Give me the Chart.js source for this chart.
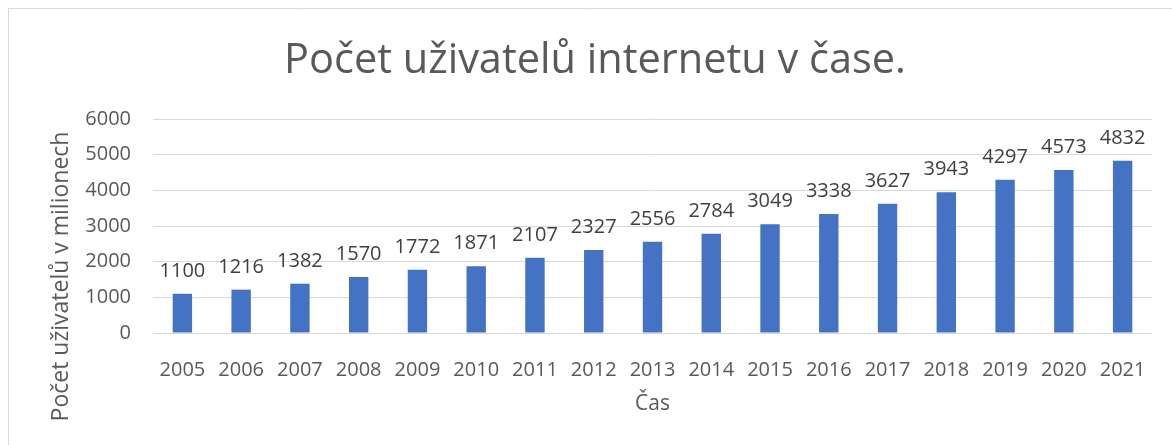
<!DOCTYPE html>
<html>
<head>
<meta charset="utf-8">
<script src="https://cdn.jsdelivr.net/npm/chart.js@4/dist/chart.umd.min.js"></script>
<style>
  html, body { margin: 0; padding: 0; background: #fff; }
  canvas { display: block; }
</style>
</head>
<body>
<canvas id="graf" width="1172" height="445"></canvas>
<script>
// Data
const roky = ['2005', '2006', '2007', '2008', '2009', '2010', '2011', '2012', '2013',
    '2014', '2015', '2016', '2017', '2018', '2019', '2020', '2021'];
const uzivatele = [1100, 1216, 1382, 1570, 1772, 1871, 2107, 2327, 2556,
    2784, 3049, 3338, 3627, 3943, 4297, 4573, 4832];
const osaYTicks = [0, 1000, 2000, 3000, 4000, 5000, 6000];

const pismo = '"Open Sans", "Noto Sans", sans-serif';

// ramecek (jen levy a horni okraj) + nadpis
const ramecek = {
    id: 'ramecek',
    beforeDraw(chart) {
        const ctx = chart.ctx;
        ctx.save();
        ctx.fillStyle = '#fff';
        ctx.fillRect(0, 0, chart.width, chart.height);
        ctx.strokeStyle = '#d9d9d9';
        ctx.lineWidth = 1;
        ctx.beginPath();
        ctx.moveTo(8.5, chart.height);
        ctx.lineTo(8.5, 8.5);
        ctx.lineTo(chart.width, 8.5);
        ctx.stroke();

        ctx.font = '41.5px ' + pismo;
        ctx.fillStyle = '#595959';
        ctx.textAlign = 'center';
        ctx.textBaseline = 'alphabetic';
        ctx.fillText('Počet uživatelů internetu v čase.', 595, 73);
        ctx.restore();
    }
};

// popisky hodnot nad sloupci
const popisky = {
    id: 'popisky',
    afterDatasetsDraw(chart) {
        const ctx = chart.ctx;
        const meta = chart.getDatasetMeta(0);
        ctx.save();
        ctx.font = '20px ' + pismo;
        ctx.fillStyle = '#404040';
        ctx.textAlign = 'center';
        ctx.textBaseline = 'alphabetic';
        meta.data.forEach((bar, i) => {
            ctx.fillText(uzivatele[i], bar.x, bar.y - 17);
        });
        ctx.restore();
    }
};

// nazev osy Y
const nazevY = {
    id: 'nazevY',
    afterDraw(chart) {
        const ctx = chart.ctx;
        ctx.save();
        ctx.translate(61, 276.5);
        ctx.rotate(-Math.PI / 2);
        ctx.font = '23px ' + pismo;
        ctx.fillStyle = '#595959';
        ctx.textAlign = 'center';
        ctx.textBaseline = 'middle';
        ctx.fillText('Počet uživatelů v milionech', 0, 0);
        ctx.restore();
    }
};

new Chart(document.getElementById('graf'), {
    type: 'bar',
    data: {
        labels: roky,
        datasets: [{
            label: 'Počet uživatelů',
            data: uzivatele,
            backgroundColor: '#4472c4',
            borderWidth: 0,
            categoryPercentage: 1,
            barPercentage: 0.33
        }]
    },
    options: {
        responsive: false,
        animation: false,
        layout: { padding: { left: 0, right: 20, top: 119, bottom: 0 } },
        plugins: {
            legend: { display: false },
            tooltip: { enabled: false },
            title: { display: false }
        },
        scales: {
            x: {
                grid: { display: false },
                border: { display: false },
                ticks: { color: '#595959', font: { family: pismo, size: 20 }, padding: 17, maxRotation: 0 },
                title: {
                    display: true,
                    text: 'Čas',
                    color: '#595959',
                    font: { family: pismo, size: 21 },
                    padding: { top: 0, bottom: 28 }
                },
                afterFit(scale) { scale.height = 112; }
            },
            y: {
                min: 0,
                max: 6000,
                afterBuildTicks(scale) { scale.ticks = osaYTicks.map(v => ({ value: v })); },
                grid: { color: '#d9d9d9', lineWidth: 1, drawTicks: false },
                border: { display: false },
                ticks: {
                    color: '#595959',
                    font: { family: pismo, size: 20 },
                    padding: 22,
                    callback: v => String(v)
                },
                afterFit(scale) { scale.width = 153; }
            }
        }
    },
    plugins: [ramecek, popisky, nazevY]
});
</script>
</body>
</html>
